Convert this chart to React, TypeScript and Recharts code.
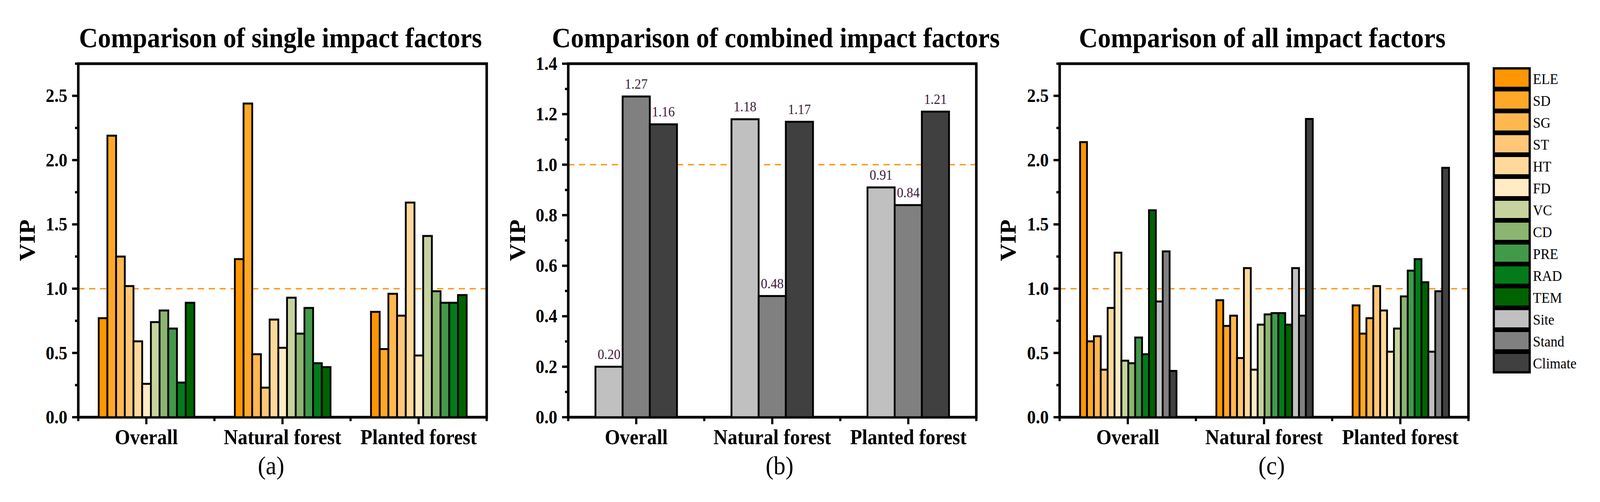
import React from "react";
import {
  Bar,
  BarChart,
  LabelList,
  ReferenceArea,
  ReferenceLine,
  XAxis,
  YAxis,
} from "recharts";

const GROUPS = ["Overall", "Natural forest", "Planted forest"];

// (a) single impact factors
const SINGLE_FACTORS = ["ELE", "SD", "SG", "ST", "HT", "FD", "VC", "CD", "PRE", "RAD", "TEM"];
const SINGLE_OVERALL = [0.77, 2.19, 1.25, 1.02, 0.59, 0.26, 0.74, 0.83, 0.69, 0.27, 0.89];
const SINGLE_NATURAL = [1.23, 2.44, 0.49, 0.23, 0.76, 0.54, 0.93, 0.65, 0.85, 0.42, 0.39];
const SINGLE_PLANTED = [0.82, 0.53, 0.96, 0.79, 1.67, 0.48, 1.41, 0.98, 0.89, 0.89, 0.95];

// (b) combined impact factors
const COMBINED_FACTORS = ["Site", "Stand", "Climate"];
const COMBINED_OVERALL = [0.2, 1.27, 1.16];
const COMBINED_NATURAL = [1.18, 0.48, 1.17];
const COMBINED_PLANTED = [0.91, 0.84, 1.21];

// (c) all impact factors
const ALL_FACTORS = [...SINGLE_FACTORS, ...COMBINED_FACTORS];
const ALL_OVERALL = [2.14, 0.59, 0.63, 0.37, 0.85, 1.28, 0.44, 0.42, 0.62, 0.49, 1.61, 0.9, 1.29, 0.36];
const ALL_NATURAL = [0.91, 0.71, 0.79, 0.46, 1.16, 0.37, 0.72, 0.8, 0.81, 0.81, 0.72, 1.16, 0.79, 2.32];
const ALL_PLANTED = [0.87, 0.65, 0.77, 1.02, 0.83, 0.51, 0.69, 0.94, 1.14, 1.23, 1.05, 0.51, 0.98, 1.94];

const VIP_TICKS = [0, 0.25, 0.5, 0.75, 1, 1.25, 1.5, 1.75, 2, 2.25, 2.5, 2.75];
const COMBINED_TICKS = [0, 0.1, 0.2, 0.3, 0.4, 0.5, 0.6, 0.7, 0.8, 0.9, 1, 1.1, 1.2, 1.3, 1.4];

const COLORS: Record<string, string> = {
  ELE: "#FF9500",
  SD: "#FFA726",
  SG: "#FFB84F",
  ST: "#FFC777",
  HT: "#FFD99B",
  FD: "#FFEBC4",
  VC: "#C7D39E",
  CD: "#8CB571",
  PRE: "#42994A",
  RAD: "#037B1A",
  TEM: "#006300",
  Site: "#C0C0C0",
  Stand: "#808080",
  Climate: "#404040",
};

const FONT = '"Liberation Serif", "DejaVu Serif", serif';

function buildRows(factors: string[], series: number[][]) {
  return GROUPS.map((group, g) => {
    const row: Record<string, string | number> = { group };
    factors.forEach((f, i) => (row[f] = series[g][i]));
    return row;
  });
}

const singleRows = buildRows(SINGLE_FACTORS, [SINGLE_OVERALL, SINGLE_NATURAL, SINGLE_PLANTED]);
const combinedRows = buildRows(COMBINED_FACTORS, [COMBINED_OVERALL, COMBINED_NATURAL, COMBINED_PLANTED]);
const allRows = buildRows(ALL_FACTORS, [ALL_OVERALL, ALL_NATURAL, ALL_PLANTED]);

function YTick(props: any) {
  const { x, y, payload, isMajor } = props;
  const major = isMajor(payload.value);
  return (
    <g>
      <line x1={x - (major ? 17 : 9)} x2={x} y1={y} y2={y} stroke="#000" strokeWidth={6} />
      {major && (
        <text
          x={x - 30}
          y={y}
          textAnchor="end"
          dominantBaseline="central"
          fontFamily={FONT}
          fontWeight="bold"
          fontSize={48}
          fill="#000"
        >
          {Number(payload.value).toFixed(1)}
        </text>
      )}
    </g>
  );
}

function XTick(props: any) {
  const { x, y, payload, index, catW } = props;
  return (
    <g>
      <line x1={x} x2={x} y1={y} y2={y + 18} stroke="#000" strokeWidth={6} />
      <line x1={x - catW / 2} x2={x - catW / 2} y1={y} y2={y + 10} stroke="#000" strokeWidth={6} />
      {index === GROUPS.length - 1 && (
        <line x1={x + catW / 2} x2={x + catW / 2} y1={y} y2={y + 10} stroke="#000" strokeWidth={6} />
      )}
      <text
        x={x}
        y={y + 51}
        textAnchor="middle"
        dominantBaseline="central"
        fontFamily={FONT}
        fontWeight="bold"
        fontSize={54}
        fill="#000"
      >
        {payload.value}
      </text>
    </g>
  );
}

const PAGE_W = 4415;
const CHART_H = 1285;
const PLOT_TOP = 163;
const PLOT_BOTTOM = 1068;
const X_AXIS_H = 80;
const Y_AXIS_W = 100;

function Panel({
  left,
  width,
  plotLeft,
  plotRight,
  rows,
  factors,
  ticks,
  domainMax,
  isMajor,
  gap,
  withLabels = false,
}: {
  left: number;
  width: number;
  plotLeft: number;
  plotRight: number;
  rows: Record<string, string | number>[];
  factors: string[];
  ticks: number[];
  domainMax: number;
  isMajor: (v: number) => boolean;
  gap: string;
  withLabels?: boolean;
}) {
  const margin = {
    top: PLOT_TOP,
    left: plotLeft - left - Y_AXIS_W,
    right: left + width - plotRight,
    bottom: CHART_H - PLOT_BOTTOM - X_AXIS_H,
  };
  const catW = (plotRight - plotLeft) / GROUPS.length;
  return (
    <div style={{ position: "absolute", left, top: 0, width, height: CHART_H }}>
      <BarChart
        width={width}
        height={CHART_H}
        data={rows}
        margin={margin}
        barCategoryGap={gap}
        barGap={0}
      >
        <XAxis
          dataKey="group"
          height={X_AXIS_H}
          axisLine={false}
          tickLine={false}
          tickSize={0}
          tickMargin={0}
          interval={0}
          tick={(p: any) => <XTick {...p} catW={catW} />}
        />
        <YAxis
          width={Y_AXIS_W}
          type="number"
          domain={[0, domainMax]}
          ticks={ticks}
          interval={0}
          axisLine={false}
          tickLine={false}
          tickSize={0}
          tickMargin={0}
          tick={(p: any) => <YTick {...p} isMajor={isMajor} />}
        />
        <ReferenceLine
          y={1}
          stroke="#FF9612"
          strokeWidth={3.5}
          strokeDasharray="17 13"
          zIndex={-50}
        />
        {factors.map((f) => (
          <Bar
            key={f}
            dataKey={f}
            name={f}
            fill={COLORS[f]}
            stroke="#000"
            strokeWidth={5}
            isAnimationActive={false}
          >
            {withLabels && (
              <LabelList
                dataKey={f}
                position="top"
                offset={20}
                formatter={(v: any) => Number(v).toFixed(2)}
                fill="#3d1a3a"
                fontSize={36}
                fontFamily={FONT}
              />
            )}
          </Bar>
        ))}
        <ReferenceArea
          y1={0}
          y2={domainMax}
          fill="none"
          stroke="#000"
          strokeWidth={7}
          ifOverflow="visible"
        />
      </BarChart>
    </div>
  );
}

const halfMajor = (v: number) => Math.abs(v * 2 - Math.round(v * 2)) < 1e-6;
const fifthMajor = (v: number) => Math.round(v * 10) % 2 === 0;

const TITLES = [
  { text: "Comparison of single impact factors", x: 774 },
  { text: "Comparison of combined impact factors", x: 2141 },
  { text: "Comparison of all impact factors", x: 3483 },
];
const PANEL_TAGS = [
  { text: "(a)", x: 748 },
  { text: "(b)", x: 2151 },
  { text: "(c)", x: 3509 },
];
const VIP_X = [75, 1428, 2782];

// legend block right of panel (c)
const LEGEND_X = 4122;
const LEGEND_Y = 175;
const LEGEND_STEP = 56;

export default function App() {
  // the browser viewport can be narrower than the 4415px target; fit the
  // whole figure into it so the legend is not cut off at the right edge
  const vw = typeof window !== "undefined" ? window.innerWidth : PAGE_W;
  const vh = typeof window !== "undefined" ? window.innerHeight : CHART_H;
  const sx = Math.min(1, vw / PAGE_W);
  const sy = Math.min(1, vh / CHART_H);
  return (
    <div style={{ width: PAGE_W * sx, height: CHART_H * sy, overflow: "hidden", background: "#fff" }}>
      <style>{`body{margin:0}`}</style>
      <div
        style={{
          position: "relative",
          width: PAGE_W,
          height: CHART_H,
          transform: `scale(${sx}, ${sy})`,
          transformOrigin: "0 0",
        }}
      >
        <Panel
          left={0}
          width={1400}
          plotLeft={216}
          plotRight={1343}
          rows={singleRows}
          factors={SINGLE_FACTORS}
          ticks={VIP_TICKS}
          domainMax={2.75}
          isMajor={halfMajor}
          gap="15%"
        />
        <Panel
          left={1400}
          width={1340}
          plotLeft={1568}
          plotRight={2694}
          rows={combinedRows}
          factors={COMBINED_FACTORS}
          ticks={COMBINED_TICKS}
          domainMax={1.4}
          isMajor={fifthMajor}
          gap="20%"
          withLabels
        />
        <Panel
          left={2740}
          width={1675}
          plotLeft={2924}
          plotRight={4052}
          rows={allRows}
          factors={ALL_FACTORS}
          ticks={VIP_TICKS}
          domainMax={2.75}
          isMajor={halfMajor}
          gap="15%"
        />
        <svg
          width={PAGE_W}
          height={CHART_H}
          style={{ position: "absolute", left: 0, top: 0, pointerEvents: "none" }}
        >
          {TITLES.map((t) => (
            <text
              key={t.text}
              x={t.x}
              y={121}
              textAnchor="middle"
              fontFamily={FONT}
              fontWeight="bold"
              fontSize={72}
              fill="#000"
            >
              {t.text}
            </text>
          ))}
          {VIP_X.map((x) => (
            <text
              key={x}
              x={x}
              y={615}
              transform={`rotate(-90 ${x} 615)`}
              textAnchor="middle"
              dominantBaseline="central"
              fontFamily={FONT}
              fontWeight="bold"
              fontSize={62}
              fill="#000"
            >
              VIP
            </text>
          ))}
          {PANEL_TAGS.map((t) => (
            <text
              key={t.text}
              x={t.x}
              y={1214}
              textAnchor="middle"
              fontFamily={FONT}
              fontSize={66}
              fill="#000"
            >
              {t.text}
            </text>
          ))}
          {ALL_FACTORS.map((f, i) => (
            <g key={f}>
              <rect
                x={LEGEND_X}
                y={LEGEND_Y + i * LEGEND_STEP}
                width={99}
                height={50}
                fill={COLORS[f]}
                stroke="#000"
                strokeWidth={6}
              />
              <text
                x={LEGEND_X + 108}
                y={LEGEND_Y + i * LEGEND_STEP + 27}
                dominantBaseline="central"
                fontFamily={FONT}
                fontSize={38}
                fill="#000"
              >
                {f}
              </text>
            </g>
          ))}
        </svg>
      </div>
    </div>
  );
}
